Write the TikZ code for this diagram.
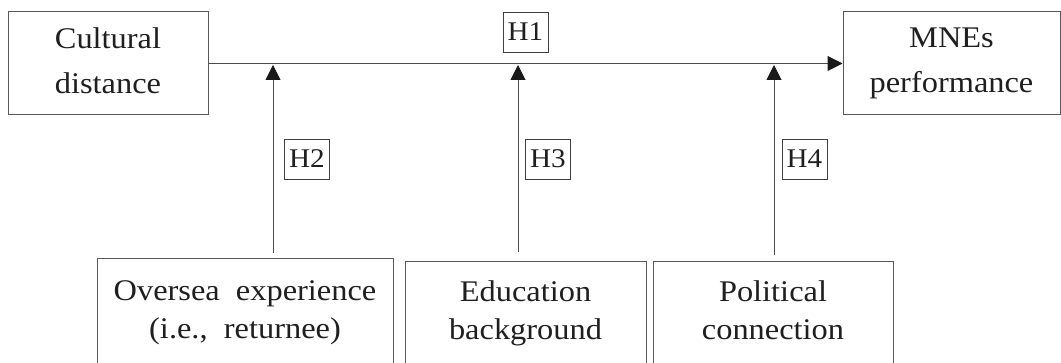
\documentclass[tikz,border=0pt]{standalone}
\usepackage{fontspec}
\setmainfont{Liberation Serif}[FakeStretch=1.08, WordSpace=2]
\usetikzlibrary{arrows.meta}
\begin{document}
\begin{tikzpicture}[x=1pt,y=-1pt,
  box/.style={draw=black!65, line width=1pt, inner sep=0pt},
  txt/.style={align=center, text=black!88, font=\fontsize{30}{45}\selectfont},
  btxt/.style={align=center, text=black!88, font=\fontsize{30}{38}\selectfont},
  hbox/.style={draw=black!75, line width=0.9pt, minimum width=45pt, minimum height=40pt, inner sep=0pt, font=\fontsize{27}{30}\selectfont, text=black!88},
  arr/.style={draw=black!70, line width=1pt, -{Triangle[length=15pt,width=15pt,fill=black!90,color=black!90]}}]
\useasboundingbox (0,0) rectangle (1061,363);
\clip (0,0) rectangle (1061,363);
% top boxes
\node[box, txt, minimum width=200pt, minimum height=103pt] (cd) at (108,63.5) {Cultural\\distance\vphantom{p}};
\node[box, txt, minimum width=217pt, minimum height=103pt] (mne) at (951.5,63.5) {MNEs\\performance};
\draw[arr] (cd.east) -- (mne.west);
\node[hbox] (h1) at (525.5,32) {H1};
% bottom boxes
\node[box, minimum width=296pt, minimum height=130pt, anchor=north] (ob) at (245,258) {};
\node[btxt] (ot) at (245,313) {Oversea experience\\(i.e., returnee)};
\node[box, minimum width=241pt, minimum height=130pt, anchor=north] (eb) at (525.5,261) {};
\node[btxt] (et) at (525.5,313) {Education\\background};
\node[box, minimum width=240pt, minimum height=130pt, anchor=north] (pb) at (773,261) {};
\node[btxt] (pt) at (773,313) {Political\\connection\vphantom{p}};
% moderating arrows
\coordinate (a1) at (273,253); \coordinate (t1) at (273,65);
\coordinate (a2) at (518,252); \coordinate (t2) at (518,65);
\coordinate (a3) at (774,255); \coordinate (t3) at (774,65);
\draw[arr] (a1) -- (t1);
\draw[arr] (a2) -- (t2);
\draw[arr] (a3) -- (t3);
\node[hbox] (h2) at (307,159) {H2};
\node[hbox] (h3) at (548,159) {H3};
\node[hbox] (h4) at (804.5,159) {H4};
\end{tikzpicture}
\end{document}
